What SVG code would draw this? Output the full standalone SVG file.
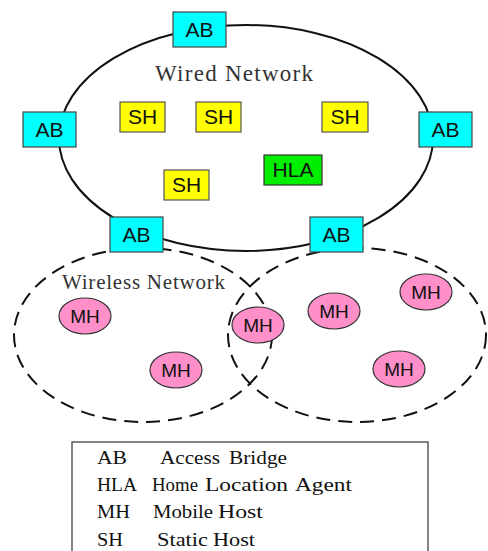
<svg xmlns="http://www.w3.org/2000/svg" width="488" height="551" viewBox="0 0 488 551">
<style>
.net{fill:none;stroke:#111;stroke-width:2}
.wl{fill:none;stroke:#111;stroke-width:2;stroke-dasharray:14 8}
.ab rect{fill:#00ffff;stroke:#444;stroke-width:1.2}
.sh rect{fill:#ffff00;stroke:#555;stroke-width:1.2}
.hla rect{fill:#00ee00;stroke:#333;stroke-width:1.2}
.mh ellipse{fill:#ff8fc8;stroke:#333;stroke-width:1.2}
.lbl{font-family:"Liberation Sans",Arial,sans-serif;font-size:21px;fill:#111;text-anchor:middle}
.mh .lbl{font-size:19px}
.ttl{font-family:"Liberation Serif","Times New Roman",serif;fill:#333}
.leg{font-family:"Liberation Serif","Times New Roman",serif;font-size:18px;fill:#111}
</style>
<rect width="488" height="551" fill="#fff"/>
<g id="connectors">
<ellipse class="net" cx="246" cy="138" rx="187" ry="113"/>
<ellipse class="wl" cx="143" cy="335" rx="129" ry="87"/>
<ellipse class="wl" cx="357" cy="335" rx="129" ry="87"/>
</g>
<text class="ttl" x="155" y="81" font-size="23" textLength="158" lengthAdjust="spacing">Wired Network</text>
<text class="ttl" x="62" y="289" font-size="21" textLength="163" lengthAdjust="spacing">Wireless Network</text>
<g id="ab-top" class="ab"><rect x="173" y="12" width="53" height="35"/><text class="lbl" x="199.5" y="37">AB</text></g>
<g id="ab-left" class="ab"><rect x="23" y="112" width="53" height="35"/><text class="lbl" x="49.5" y="137">AB</text></g>
<g id="ab-right" class="ab"><rect x="419" y="112" width="53" height="35"/><text class="lbl" x="445.5" y="137">AB</text></g>
<g id="ab-bl" class="ab"><rect x="110" y="217" width="53" height="35"/><text class="lbl" x="136.5" y="242">AB</text></g>
<g id="ab-br" class="ab"><rect x="310" y="217" width="53" height="35"/><text class="lbl" x="336.5" y="242">AB</text></g>
<g id="sh1" class="sh"><rect x="120" y="102" width="45" height="30"/><text class="lbl" x="142.5" y="124">SH</text></g>
<g id="sh2" class="sh"><rect x="196" y="102" width="45" height="30"/><text class="lbl" x="218.5" y="124">SH</text></g>
<g id="sh3" class="sh"><rect x="322" y="102" width="46" height="30"/><text class="lbl" x="345" y="124">SH</text></g>
<g id="sh4" class="sh"><rect x="164" y="170" width="45" height="30"/><text class="lbl" x="186.5" y="192">SH</text></g>
<g id="hla" class="hla"><rect x="264" y="155" width="58" height="30"/><text class="lbl" x="293" y="177">HLA</text></g>
<g id="mh1" class="mh"><ellipse cx="85" cy="316" rx="26" ry="18"/><text class="lbl" x="85" y="323">MH</text></g>
<g id="mh2" class="mh"><ellipse cx="176" cy="370" rx="26" ry="18"/><text class="lbl" x="176" y="377">MH</text></g>
<g id="mh3" class="mh"><ellipse cx="258" cy="325" rx="26" ry="18"/><text class="lbl" x="258" y="332">MH</text></g>
<g id="mh4" class="mh"><ellipse cx="334" cy="311" rx="26" ry="18"/><text class="lbl" x="334" y="318">MH</text></g>
<g id="mh5" class="mh"><ellipse cx="426" cy="292" rx="26" ry="18"/><text class="lbl" x="426" y="299">MH</text></g>
<g id="mh6" class="mh"><ellipse cx="399" cy="369" rx="26" ry="18"/><text class="lbl" x="399" y="376">MH</text></g>
<g id="legend">
<rect x="72" y="442" width="356" height="115" fill="#fff" stroke="#333" stroke-width="1.2"/>
<text class="leg" x="97" y="464" textLength="30" lengthAdjust="spacingAndGlyphs">AB</text><text class="leg" x="160" y="464" textLength="60" lengthAdjust="spacingAndGlyphs">Access</text><text class="leg" x="229" y="464" textLength="58" lengthAdjust="spacingAndGlyphs">Bridge</text>
<text class="leg" x="97" y="491" textLength="40" lengthAdjust="spacingAndGlyphs">HLA</text><text class="leg" x="152" y="491" textLength="46" lengthAdjust="spacingAndGlyphs">Home</text><text class="leg" x="205" y="491" textLength="83" lengthAdjust="spacingAndGlyphs">Location</text><text class="leg" x="295" y="491" textLength="57" lengthAdjust="spacingAndGlyphs">Agent</text>
<text class="leg" x="97" y="518" textLength="33" lengthAdjust="spacingAndGlyphs">MH</text><text class="leg" x="153" y="518" textLength="60" lengthAdjust="spacingAndGlyphs">Mobile</text><text class="leg" x="218" y="518" textLength="45" lengthAdjust="spacingAndGlyphs">Host</text>
<text class="leg" x="97" y="546" textLength="26" lengthAdjust="spacingAndGlyphs">SH</text><text class="leg" x="157" y="546" textLength="51" lengthAdjust="spacingAndGlyphs">Static</text><text class="leg" x="213" y="546" textLength="42" lengthAdjust="spacingAndGlyphs">Host</text>
</g>
</svg>
